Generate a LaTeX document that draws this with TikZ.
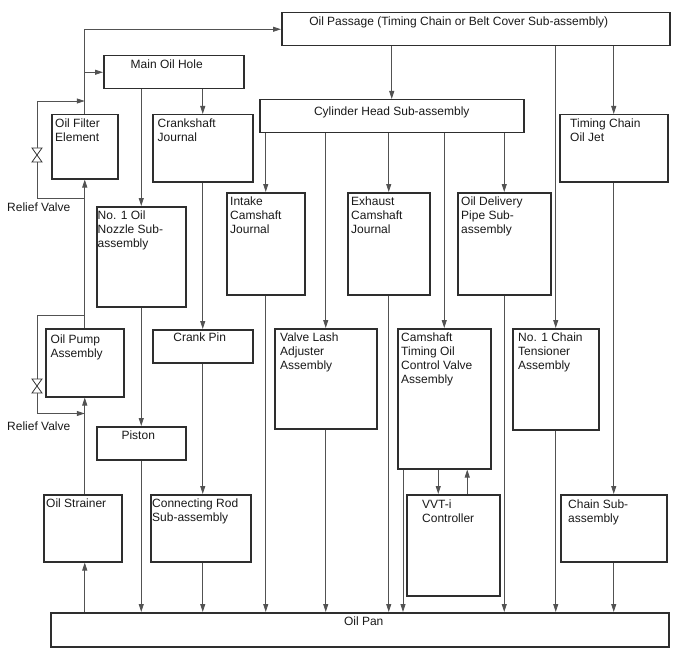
\documentclass[tikz,border=0pt]{standalone}
\usepackage{fontspec}
\setmainfont{Liberation Sans}
\usetikzlibrary{arrows.meta}

\begin{document}
\begin{tikzpicture}[
    x=1pt, y=-1pt,
    font=\fontsize{12}{14}\selectfont,
    part/.style 2 args={
        draw=black!82,
        line width=1.5pt,
        anchor=north west,
        inner sep=0pt,
        minimum width=#1,
        minimum height=#2
    },
    txt/.style={anchor=north west, align=left, inner xsep=4pt, inner ysep=4.5pt, text=black!90},
    ctxt/.style={anchor=north, align=center, inner xsep=0pt, inner ysep=4.5pt, text=black!90},
    note/.style={anchor=base west, inner sep=0pt, text=black!90},
    flow/.style={-{Triangle[length=8pt,width=5pt]}, line width=0.8pt, draw=black!68},
    valve/.style={line width=0.8pt, draw=black!80, fill=white}
]
\useasboundingbox (0,0) rectangle (688,658);

\node[part={388}{33}, label={[ctxt, xshift=-17pt]north:Oil Passage (Timing Chain or Belt Cover Sub-assembly)}] (passage) at (281,12) {};
\node[part={140}{33}, label={[ctxt, xshift=-7pt]north:Main Oil Hole}] (mainhole) at (103,55) {};
\node[part={264}{33}, label={[ctxt, yshift=-3pt]north:Cylinder Head Sub-assembly}] (head) at (259,99) {};

\node[part={66}{64}, label={[txt]north west:Oil Filter\\Element}] (filter) at (51,114) {};
\node[part={100}{67}, label={[txt, xshift=1.5pt]north west:Crankshaft\\Journal}] (crankj) at (152,114) {};
\node[part={108}{67}, label={[txt, xshift=7pt]north west:Timing Chain\\Oil Jet}] (jet) at (559,114) {};

\node[part={78}{102}, label={[txt]north west:Intake\\Camshaft\\Journal}] (intake) at (226,192) {};
\node[part={82}{102}, label={[txt]north west:Exhaust\\Camshaft\\Journal}] (exhaust) at (347,192) {};
\node[part={93}{102}, label={[txt]north west:Oil Delivery\\Pipe Sub-\\assembly}] (delivery) at (457,192) {};
\node[part={89}{100}, label={[txt, xshift=-2.5pt]north west:No. 1 Oil\\Nozzle Sub-\\assembly}] (nozzle) at (96,206) {};

\node[part={78}{68}, label={[txt, xshift=1.5pt, yshift=-2pt]north west:Oil Pump\\Assembly}] (pump) at (45,328) {};
\node[part={100}{33}, label={[ctxt, xshift=-3pt, yshift=1pt]north:Crank Pin}] (crankpin) at (152,329) {};
\node[part={102}{100}, label={[txt, xshift=2pt]north west:Valve Lash\\Adjuster\\Assembly}] (lash) at (274,328) {};
\node[part={93}{140}, label={[txt]north west:Camshaft\\Timing Oil\\Control Valve\\Assembly}] (ocv) at (397,328) {};
\node[part={86}{101}, label={[txt, xshift=2pt]north west:No. 1 Chain\\Tensioner\\Assembly}] (tens) at (512,328) {};

\node[part={89}{33}, label={[ctxt, xshift=-3pt]north:Piston}] (piston) at (96,426) {};

\node[part={78}{67}, label={[txt, xshift=-1pt]north west:Oil Strainer}] (strainer) at (43,494) {};
\node[part={100}{67}, label={[txt, xshift=-2pt]north west:Connecting Rod\\Sub-assembly}] (conrod) at (150,494) {};
\node[part={93}{101}, label={[txt, xshift=12pt, yshift=-1pt]north west:VVT-i\\Controller}] (vvt) at (406,494) {};
\node[part={106}{67}, label={[txt, xshift=4pt, yshift=-1pt]north west:Chain Sub-\\assembly}] (chain) at (560,494) {};

\node[part={618}{34}, label={[ctxt, xshift=4pt]north:Oil Pan}] (pan) at (50,612) {};

\node[note] (reliefA) at (7,211) {Relief Valve};
\node[note] (reliefB) at (7,430) {Relief Valve};

\coordinate (valveA) at (37,155);
\coordinate (valveB) at (37,386);
\coordinate (bypassA) at (37,101);
\coordinate (bypassB) at (37,315);

\draw[flow] (filter.north) |- (passage.west);
\draw[flow] (filter.north |- mainhole.west) -- (mainhole.west);
\draw[flow] ([yshift=-19pt]filter.south) -| (bypassA) -- (bypassA -| filter.north);
\draw[flow] (pump.north) -- (filter.south);
\draw[flow] (bypassB -| pump.north) -- (bypassB) -- ([yshift=-16pt]pump.south -| bypassB) -- ([yshift=-16pt]pump.south);
\draw[flow] (pump.south |- strainer.north) -- (pump.south);
\draw[flow] (pump.south |- pan.north) -- (pump.south |- strainer.south);

\draw[flow] (mainhole.south -| nozzle.north) -- (nozzle.north);
\draw[flow] (mainhole.south -| crankj.north) -- (crankj.north);
\draw[flow] (nozzle.south) -- (piston.north);
\draw[flow] (piston.south) -- (piston.south |- pan.north);
\draw[flow] (crankj.south) -- (crankpin.north);
\draw[flow] (crankpin.south) -- (crankpin.south |- conrod.north);
\draw[flow] (crankpin.south |- conrod.south) -- (crankpin.south |- pan.north);

\draw[flow] (passage.south -| head.north) -- (head.north);
\draw[flow] (passage.south -| tens.north) -- (tens.north);
\draw[flow] (passage.south -| jet.north) -- (jet.north);
\draw[flow] (jet.south) -- (chain.north);
\draw[flow] (chain.south) -- (chain.south |- pan.north);
\draw[flow] (tens.south) -- (tens.south |- pan.north);

\draw[flow] (head.south -| intake.north) -- (intake.north);
\draw[flow] (head.south -| lash.north) -- (lash.north);
\draw[flow] (head.south -| exhaust.north) -- (exhaust.north);
\draw[flow] (head.south -| ocv.north) -- (ocv.north);
\draw[flow] (head.south -| delivery.north) -- (delivery.north);

\draw[flow] (intake.south) -- (intake.south |- pan.north);
\draw[flow] (lash.south) -- (lash.south |- pan.north);
\draw[flow] (exhaust.south) -- (exhaust.south |- pan.north);
\draw[flow] (delivery.south) -- (delivery.south |- pan.north);
\draw[flow] ([xshift=6pt]ocv.south west) -- ([xshift=6pt]ocv.south west |- pan.north);
\draw[flow] ([xshift=-15pt]vvt.north |- ocv.south) -- ([xshift=-15pt]vvt.north);
\draw[flow] ([xshift=14pt]vvt.north) -- ([xshift=14pt]vvt.north |- ocv.south);

\filldraw[valve] ([shift={(-5pt,7pt)}]valveA) -- ([shift={(5pt,7pt)}]valveA) -- ([shift={(-5pt,-7pt)}]valveA) -- ([shift={(5pt,-7pt)}]valveA) -- cycle;
\filldraw[valve] ([shift={(-5pt,7pt)}]valveB) -- ([shift={(5pt,7pt)}]valveB) -- ([shift={(-5pt,-7pt)}]valveB) -- ([shift={(5pt,-7pt)}]valveB) -- cycle;

\end{tikzpicture}
\end{document}
